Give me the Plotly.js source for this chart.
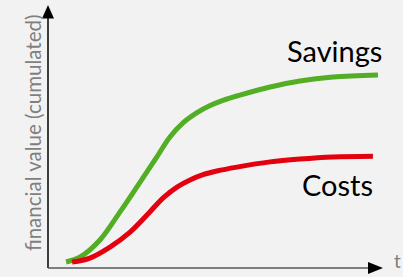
<!DOCTYPE html>
<html>
<head>
<meta charset="utf-8">
<script src="https://cdn.plot.ly/plotly-3.0.1.min.js"></script>
<style>html,body{margin:0;padding:0;background:#f2f2f2;}#chart{width:403px;height:277px;}</style>
</head>
<body>
<div id="chart"></div>
<script>
// time (0-100) and cumulated financial value (0-100)
const savingsT = [5.4, 9.6, 15.5, 21.5, 27.5, 32.5, 36.4, 40.3, 44.5, 48.4, 52.2, 57.3, 66.3, 75.2, 85.1, 98.5];
const savingsV = [2.3, 4.2, 10.7, 21.4, 32.8, 42.4, 50.0, 55.4, 59.3, 62.0, 64.0, 66.0, 69.1, 71.4, 72.9, 73.7];
const costsT = [7.2, 12.5, 18.5, 24.5, 30.4, 34.3, 38.5, 42.4, 46.3, 50.4, 56.4, 66.3, 75.2, 85.1, 97.0];
const costsV = [2.3, 3.8, 8.0, 13.7, 21.4, 26.7, 30.9, 33.6, 35.6, 37.0, 38.5, 40.5, 41.6, 42.4, 42.7];
const seriesNames = ["Savings", "Costs"];
const yTitle = "financial value (cumulated)";
const xTitle = "t";

const green = "#52ae25";
const red = "#e3000f";
const font = "Lato, 'Open Sans', sans-serif";

const traces = [
  {x: savingsT, y: savingsV, type: "scatter", mode: "lines", line: {color: green, width: 5, shape: "spline", smoothing: 1}, name: seriesNames[0]},
  {x: costsT, y: costsV, type: "scatter", mode: "lines", line: {color: red, width: 5, shape: "spline", smoothing: 1}, name: seriesNames[1]}
];

// plot area: 48px .. 403px wide (355px), axis arrow ends at 383px
const W = 355;
const xEnd = 100 * W / 335;
const px = v => v / W; // pixel offset -> paper fraction

const layout = {
  width: 403, height: 277,
  margin: {l: 48, r: 0, t: 6, b: 9},
  paper_bgcolor: "#f2f2f2", plot_bgcolor: "#f2f2f2",
  showlegend: false,
  xaxis: {range: [0, xEnd], showgrid: false, zeroline: false, showticklabels: false, ticks: "", showline: false, fixedrange: true},
  yaxis: {range: [0, 100], showgrid: false, zeroline: false, showticklabels: false, ticks: "", showline: false, fixedrange: true},
  shapes: [
    {type: "line", xref: "paper", yref: "paper", x0: 0, y0: 0, x1: 0, y1: 0.96, line: {color: "#000000", width: 1.5}},
    {type: "path", xref: "paper", yref: "paper", path: `M ${-px(6)} 0.952 L ${px(6)} 0.952 L 0 1.004 Z`, fillcolor: "#000000", line: {width: 0}},
    {type: "line", xref: "paper", yref: "paper", x0: 0, y0: 0, x1: px(322), y1: 0, line: {color: "#595959", width: 1.5}},
    {type: "path", xref: "paper", yref: "paper", path: `M ${px(320)} 0.0229 L ${px(320)} -0.0229 L ${px(335)} 0 Z`, fillcolor: "#000000", line: {width: 0}}
  ],
  annotations: [
    {x: 85.4, y: 83, xref: "x", yref: "y", text: seriesNames[0], showarrow: false, font: {family: font, size: 29, color: "#000000"}, xanchor: "center", yanchor: "middle"},
    {x: 86.3, y: 32, xref: "x", yref: "y", text: seriesNames[1], showarrow: false, font: {family: font, size: 29, color: "#000000"}, xanchor: "center", yanchor: "middle"},
    {x: 104.3, y: 2.9, xref: "x", yref: "y", text: xTitle, showarrow: false, font: {family: font, size: 19, color: "#7f7f7f"}, xanchor: "center", yanchor: "middle"},
    {x: px(-15), y: 0.515, xref: "paper", yref: "paper", text: yTitle, textangle: -90, showarrow: false, font: {family: font, size: 20.5, color: "#7f7f7f"}, xanchor: "center", yanchor: "middle"}
  ]
};

Plotly.newPlot("chart", traces, layout, {displayModeBar: false, staticPlot: true});
</script>
</body>
</html>
